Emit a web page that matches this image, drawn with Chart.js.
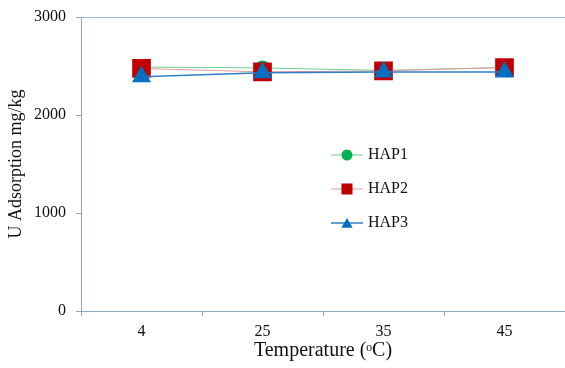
<!DOCTYPE html>
<html>
<head>
<meta charset="utf-8">
<script src="https://cdn.jsdelivr.net/npm/chart.js@4.4.1/dist/chart.umd.min.js"></script>
<style>
  html, body { margin: 0; padding: 0; background: #fff; overflow: hidden; }
  #wrap { width: 565px; height: 368px; position: relative; overflow: hidden; }
  canvas { display: block; }
</style>
</head>
<body>
<div id="wrap"><canvas id="c" width="565" height="368"></canvas></div>
<script>
const categories = ['4', '25', '35', '45'];
const hap1 = [2490, 2480, 2455, 2485];
const hap2 = [2475, 2440, 2450, 2485];
const hap3 = [2390, 2430, 2440, 2440];
const seriesNames = ['HAP1', 'HAP2', 'HAP3'];
const yTicks = [0, 1000, 2000, 3000];
const xTitle = 'Temperature (\u1D52C)';
const yTitle = 'U Adsorption mg/kg';

const SERIF = "'Liberation Serif', 'Times New Roman', serif";
const axisColor = '#8ea5c2';

const legendPlugin = {
  id: 'midLegend',
  afterDraw(chart) {
    const ctx = chart.ctx;
    const x0 = 331, x1 = 363, xm = 347, xt = 368;
    const ys = [155, 189, 223];
    const sizes = [5.5, 7.8, 6.5];
    chart.data.datasets.forEach((ds, i) => {
      const y = ys[i];
      ctx.save();
      ctx.strokeStyle = ds.borderColor;
      ctx.lineWidth = ds.borderWidth;
      ctx.beginPath();
      ctx.moveTo(x0, y);
      ctx.lineTo(x1, y);
      ctx.stroke();
      ctx.fillStyle = ds.pointBackgroundColor;
      ctx.strokeStyle = ds.pointBackgroundColor;
      Chart.helpers.drawPoint(ctx, {pointStyle: ds.pointStyle, radius: sizes[i], borderWidth: 0, rotation: 0}, xm, y + (ds.pointStyle === 'triangle' ? 1.5 : 0));
      ctx.fillStyle = '#111';
      ctx.font = '16px ' + SERIF;
      ctx.textBaseline = 'middle';
      ctx.textAlign = 'left';
      ctx.fillText(seriesNames[i], xt, y);
      ctx.restore();
    });
  }
};

new Chart(document.getElementById('c'), {
  type: 'line',
  data: {
    labels: categories,
    datasets: [
      { label: seriesNames[0], data: hap1, borderColor: '#6ccf94', borderWidth: 1,
        pointStyle: 'circle', pointRadius: 7.5, pointBackgroundColor: '#00b050', pointBorderColor: '#00b050', pointBorderWidth: 0, order: 3 },
      { label: seriesNames[1], data: hap2, borderColor: '#e39a9a', borderWidth: 1,
        pointStyle: 'rect', pointRadius: 13.2, pointBackgroundColor: '#c00000', pointBorderColor: '#c00000', pointBorderWidth: 0, order: 2 },
      { label: seriesNames[2], data: hap3, borderColor: '#2f7fc6', borderWidth: 1.5,
        pointStyle: 'triangle', pointRadius: 11, pointBackgroundColor: '#0070c0', pointBorderColor: '#0070c0', pointBorderWidth: 0, order: 1 }
    ]
  },
  options: {
    responsive: false,
    animation: false,
    devicePixelRatio: 1,
    layout: { autoPadding: false, padding: { top: 17, right: 0, left: 0, bottom: 0 } },
    plugins: { legend: { display: false }, tooltip: { enabled: false } },
    elements: { line: { tension: 0 } },
    scales: {
      x: {
        type: 'category',
        offset: true,
        grid: { offset: true, drawOnChartArea: false, drawTicks: true, tickLength: 5, tickColor: axisColor },
        border: { display: true, color: axisColor, width: 1 },
        ticks: { color: '#111', font: { family: SERIF, size: 16 }, padding: 6, maxRotation: 0 },
        title: { display: true, text: xTitle, color: '#111', font: { family: SERIF, size: 20 }, padding: { top: 0, bottom: 5 } },
        afterFit(s) { s.height = 57; s.paddingLeft = 0; s.paddingRight = 0; }
      },
      y: {
        min: 0, max: 3000,
        afterBuildTicks(s) { s.ticks = yTicks.map(v => ({ value: v })); },
        grid: {
          drawOnChartArea: true, drawTicks: true, tickLength: 5, tickColor: axisColor,
          color: (c) => (c.tick && c.tick.value === 3000) ? '#9dbbe0' : 'rgba(0,0,0,0)'
        },
        border: { display: true, color: axisColor, width: 1 },
        ticks: { color: '#111', font: { family: SERIF, size: 16 }, padding: 10, callback: (v) => String(v) },
        title: { display: true, text: yTitle, color: '#111', font: { family: SERIF, size: 18 }, padding: { top: 5, bottom: 0 } },
        afterFit(s) { s.width = 81; s.paddingTop = 0; s.paddingBottom = 0; }
      }
    }
  },
  plugins: [legendPlugin]
});
</script>
</body>
</html>
